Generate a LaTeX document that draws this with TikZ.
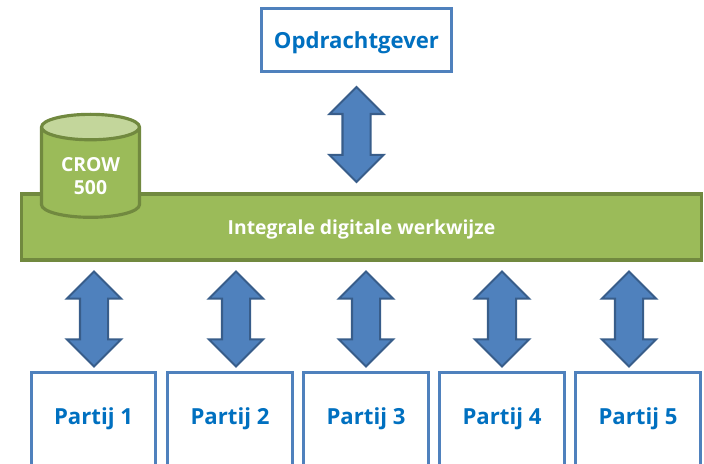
\documentclass[tikz,border=0pt]{standalone}
\usepackage{fontspec}
\setmainfont{Open Sans}
\usetikzlibrary{shapes.arrows, shapes.geometric}
\definecolor{boxblue}{HTML}{4F81BD}
\definecolor{arrowline}{HTML}{385D8A}
\definecolor{labelblue}{HTML}{0070C0}
\definecolor{barfill}{HTML}{9BBB59}
\definecolor{barline}{HTML}{71893F}
\definecolor{crowtop}{HTML}{C3D69B}
\tikzset{
  partybox/.style={draw=boxblue, line width=1.8pt, fill=white, text=labelblue, minimum height=1.86cm, font=\fontsize{12.6}{15}\selectfont\bfseries},
  linkarrow/.style={double arrow, double arrow head extend=0.26cm, double arrow tip angle=90, inner sep=0.26cm, minimum height=1.9cm, rotate=90, draw=arrowline, line width=1.2pt, fill=boxblue},
}

\begin{document}
\begin{tikzpicture}

\useasboundingbox (0,0) rectangle (14.08,9.26);
\clip (0,0) rectangle (14.08,9.26);

%top
\node [partybox, minimum width=3.8cm, minimum height=1.27cm, text depth=0pt] (opdrachtgever) at (7.13,8.46) {Opdrachtgever};
\node [linkarrow] (pijl0) at (7.13,6.57) {};

%bar
\node [draw=barline, line width=1.8pt, fill=barfill, text=white, minimum width=13.6cm, minimum height=1.32cm, text depth=0pt, font=\fontsize{11}{13}\selectfont\bfseries] (werkwijze) at (7.23,4.72) {Integrale digitale werkwijze};
\node [cylinder, shape border rotate=90, aspect=0.36, minimum width=1.96cm, minimum height=2.06cm, draw=barline, line width=1.8pt, cylinder uses custom fill, cylinder body fill=barfill, cylinder end fill=crowtop, text=white, align=center, font=\fontsize{11}{13.5}\selectfont\bfseries] (crow) at (1.81,5.74) {CROW\\500};

%arrows
\node [linkarrow] (pijl1) at (1.88,2.88) {};
\node [linkarrow] (pijl2) at (4.72,2.88) {};
\node [linkarrow] (pijl3) at (7.32,2.88) {};
\node [linkarrow] (pijl4) at (10.04,2.88) {};
\node [linkarrow] (pijl5) at (12.58,2.88) {};

%parties
\node [partybox, minimum width=2.48cm] (partij1) at (1.87,0.88) {Partij 1};
\node [partybox, minimum width=2.5cm] (partij2) at (4.6,0.88) {Partij 2};
\node [partybox, minimum width=2.5cm] (partij3) at (7.32,0.88) {Partij 3};
\node [partybox, minimum width=2.5cm] (partij4) at (10.04,0.88) {Partij 4};
\node [partybox, minimum width=2.5cm] (partij5) at (12.76,0.88) {Partij 5};

\end{tikzpicture}
\end{document}
